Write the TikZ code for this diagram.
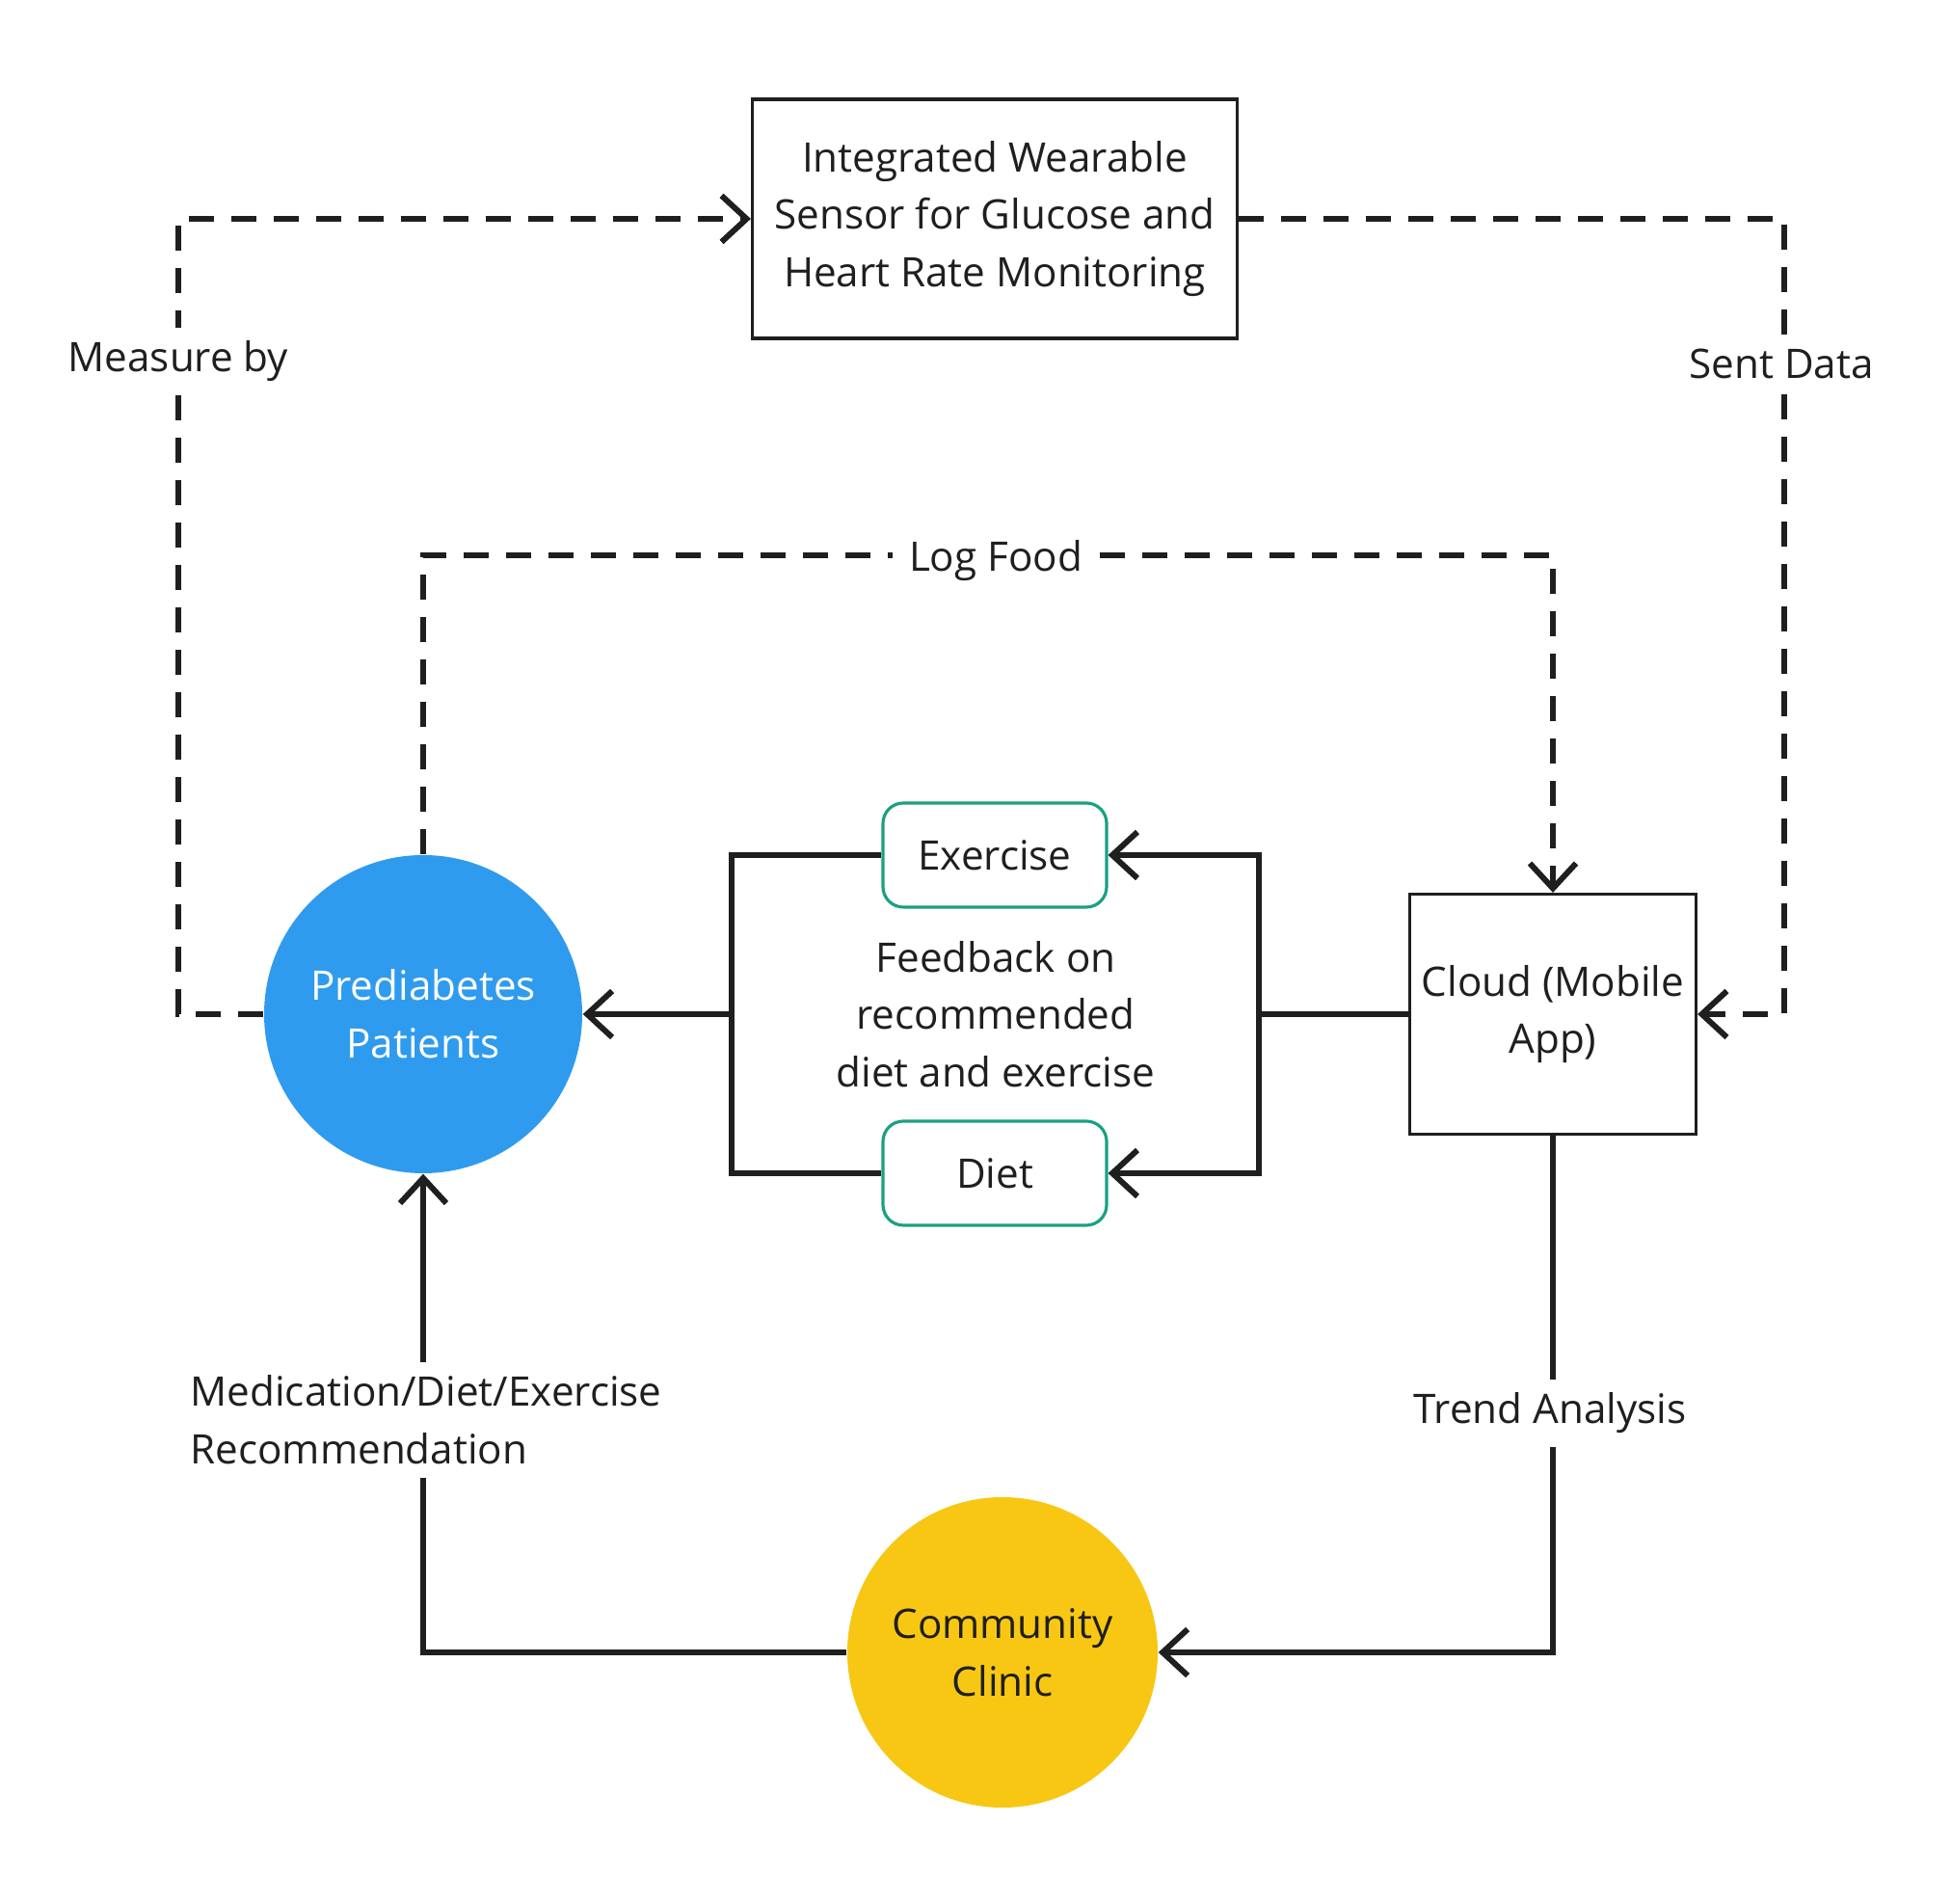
\documentclass[tikz,border=0pt]{standalone}
\usepackage{fontspec}
\setmainfont{Open Sans}
\usepackage{tikz}
\usetikzlibrary{positioning,arrows.meta}
\definecolor{CK}{RGB}{31, 31, 31}
\definecolor{CB}{RGB}{47, 155, 238}
\definecolor{CY}{RGB}{247, 199, 20}
\definecolor{CT}{RGB}{26, 160, 130}

\begin{document}
\begin{tikzpicture}[font=\fontsize{12}{17}\selectfont, text=CK,
    box/.style={draw=CK, line width=0.9pt, align=center, inner sep=0pt},
    tag/.style={draw=CT, line width=0.9pt, rounded corners=6pt, minimum width=2.32cm, minimum height=1.08cm},
    blob/.style={circle, inner sep=0pt, align=center},
    conn/.style={draw=CK, line width=1.7pt},
    dashln/.style={conn, dash pattern=on 0.26cm off 0.18cm},
    tip/.style={-{Straight Barb[length=0.26cm, width=0.48cm, line width=1.7pt]}},
    lbl/.style={fill=white, inner xsep=0.17cm, inner ysep=4pt}]
        \useasboundingbox (0,0) rectangle (20.24,19.75);
        \node[box, minimum width=5.03cm, minimum height=2.48cm] (sensor) at (10.32,17.48)
            {Integrated Wearable\\Sensor for Glucose and\\Heart Rate Monitoring};
        \node[blob, fill=CB, text=white, minimum size=3.30cm] (pat) at (4.39,9.23) {Prediabetes\\Patients};
        \node[box, minimum width=2.97cm, minimum height=2.49cm] (cloud) at (16.11,9.23) {Cloud (Mobile\\App)};
        \node[tag] (ex)   at (10.32,10.88) {Exercise};
        \node[tag] (diet) at (10.32,7.58)  {Diet};
        \node[align=center] (fb) at (10.33,9.23) {Feedback on\\recommended\\diet and exercise};
        \node[blob, fill=CY, minimum size=3.22cm] (clinic) at (10.40,2.61) {Community\\Clinic};
        \coordinate (lb) at (7.59,9.23);
        \coordinate (rb) at (13.06,9.23);
        \coordinate (sr) at (18.51,17.48);
        \coordinate (ml) at (1.85,9.23);
        % dashed loops
        \draw[dashln, tip] (pat.west) -- (ml) |- (sensor.west);
        \draw[dashln, tip] (sensor.east) -- (sr) |- (cloud.east);
        \draw[dashln, tip] (pat.north) -- ++(0,3.10) -| (cloud.north);
        % feedback
        \draw[conn] (ex.west) -| (lb) |- (diet.west);
        \draw[conn, tip] (lb) -- (pat.east);
        \draw[conn] (cloud.west) -- (rb);
        \draw[conn, tip] (rb) |- (ex.east);
        \draw[conn, tip] (rb) |- (diet.east);
        % clinic loop
        \draw[conn, tip] (cloud.south) |- (clinic.east);
        \draw[conn, tip] (clinic.west) -| (pat.south);
        \node[lbl] (measure) at (1.85,16.00) {Measure by};
        \node[lbl] (sent) at (18.48,15.98) {Sent Data};
        \node[lbl] (food) at (10.33,13.93) {Log Food};
        \node[lbl] (trend) at (16.08,5.09) {Trend Analysis};
        \node[lbl, anchor=west, align=left] (med) at (1.80,5.02) {Medication/Diet/Exercise\\Recommendation};
    \end{tikzpicture}
\end{document}
